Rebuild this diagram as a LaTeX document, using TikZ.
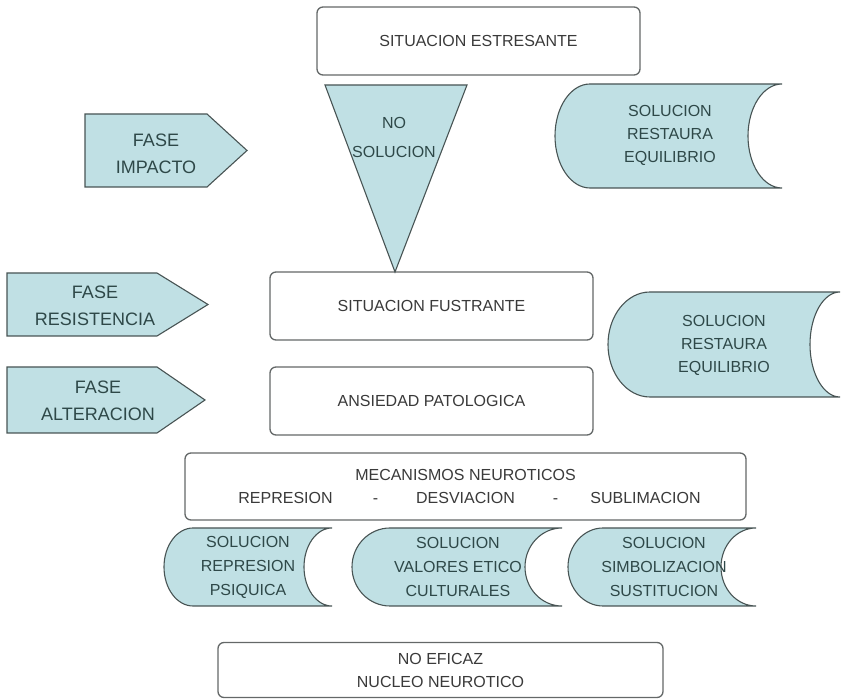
\documentclass[tikz,border=0pt]{standalone}
\usepackage{fontspec}
\setmainfont{Liberation Sans}
\usetikzlibrary{positioning}

\definecolor{solteal}{RGB}{192,224,228}
\definecolor{edgegrey}{RGB}{100,104,104}
\definecolor{tealedge}{RGB}{72,84,84}
\definecolor{inkgrey}{RGB}{58,58,58}

\begin{document}
\begin{tikzpicture}[
  x=1pt, y=1pt,
  font=\fontsize{16}{23}\selectfont,
  stagebox/.style={
    rectangle,
    rounded corners=6pt,
    draw=edgegrey,
    line width=1.3pt,
    fill=white,
    text=inkgrey,
    align=center,
    inner sep=0pt,
    outer sep=0pt,
  },
  solshape/.style={draw=tealedge, line width=1.1pt, fill=solteal},
  soltext/.style={text=inkgrey!80!teal, align=center, inner sep=0pt},
  phasetext/.style={soltext, font=\fontsize{18}{27}\selectfont},
]
\useasboundingbox (0,0) rectangle (844,699);

% --- main column ---
\node[stagebox, minimum width=323pt, minimum height=68pt] (Estresante) at (478.5,658) {SITUACION ESTRESANTE};
\node[stagebox, minimum width=323pt, minimum height=68pt] (Fustrante) at (431.5,393) {SITUACION FUSTRANTE};
\node[stagebox, minimum width=323pt, minimum height=68pt, below=27pt of Fustrante] (Ansiedad) {ANSIEDAD PATOLOGICA};
\node[stagebox, minimum width=561pt, minimum height=67pt] (Mecanismos) at (465.5,212.5) {
  MECANISMOS NEUROTICOS\\
  \makebox[90pt]{REPRESION}\makebox[90pt]{-}\makebox[90pt]{DESVIACION}\makebox[90pt]{-}\makebox[90pt]{SUBLIMACION}
};
\node[stagebox, minimum width=445pt, minimum height=55pt] (Nucleo) at (440.5,29) {NO EFICAZ\\NUCLEO NEUROTICO};

% --- no solucion (inverted triangle down to Fustrante) ---
\draw[solshape] (325,614) -- (467,614) -- (Fustrante.north -| 395,0) -- cycle;
\node[soltext, font=\fontsize{16}{29}\selectfont] (NoSolucion) at (394,561.5) {NO\\SOLUCION};

% --- phases ---
\draw[solshape] (85,585) -- (207,585) -- (247,548.5) -- (207,512) -- (85,512) -- cycle;
\node[phasetext] (Impacto) at (156,545.5) {FASE\\IMPACTO};
\draw[solshape] (7,426) -- (157,426) -- (208,394.5) -- (157,363) -- (7,363) -- cycle;
\node[phasetext] (Resistencia) at (95,393) {FASE\\RESISTENCIA};
\draw[solshape] (7,332) -- (157,332) -- (205,299) -- (157,266) -- (7,266) -- cycle;
\node[phasetext] (Alteracion) at (98,298.5) {FASE\\ALTERACION};

% --- solutions (stored data shapes) ---
\draw[solshape] (590,615) -- (782,615) arc[start angle=90, end angle=270, x radius=34, y radius=52]
  -- (590,511) arc[start angle=270, end angle=90, x radius=35, y radius=52] -- cycle;
\node[soltext] (RestauraA) at (670,564) {SOLUCION\\RESTAURA\\EQUILIBRIO};
\draw[solshape] (650,407) -- (840,407) arc[start angle=90, end angle=270, x radius=30, y radius=52.5]
  -- (650,302) arc[start angle=270, end angle=90, x radius=42, y radius=52.5] -- cycle;
\node[soltext] (RestauraB) at (724,354) {SOLUCION\\RESTAURA\\EQUILIBRIO};

\draw[solshape] (193,171) -- (332,171) arc[start angle=90, end angle=270, x radius=28, y radius=39]
  -- (193,93) arc[start angle=270, end angle=90, x radius=29, y radius=39] -- cycle;
\node[soltext, font=\fontsize{16}{24}\selectfont] (Represion) at (248,132) {SOLUCION\\REPRESION\\PSIQUICA};
\draw[solshape] (390,171) -- (562,171) arc[start angle=90, end angle=270, x radius=37, y radius=39]
  -- (390,93) arc[start angle=270, end angle=90, x radius=38, y radius=39] -- cycle;
\node[soltext, font=\fontsize{16}{24}\selectfont] (Valores) at (458,132) {SOLUCION\\VALORES ETICO\\CULTURALES};
\draw[solshape] (603,171) -- (756,171) arc[start angle=90, end angle=270, x radius=35, y radius=39]
  -- (603,93) arc[start angle=270, end angle=90, x radius=35, y radius=39] -- cycle;
\node[soltext, font=\fontsize{16}{24}\selectfont] (Simbolizacion) at (664,132) {SOLUCION\\SIMBOLIZACION\\SUSTITUCION};
\end{tikzpicture}
\end{document}
